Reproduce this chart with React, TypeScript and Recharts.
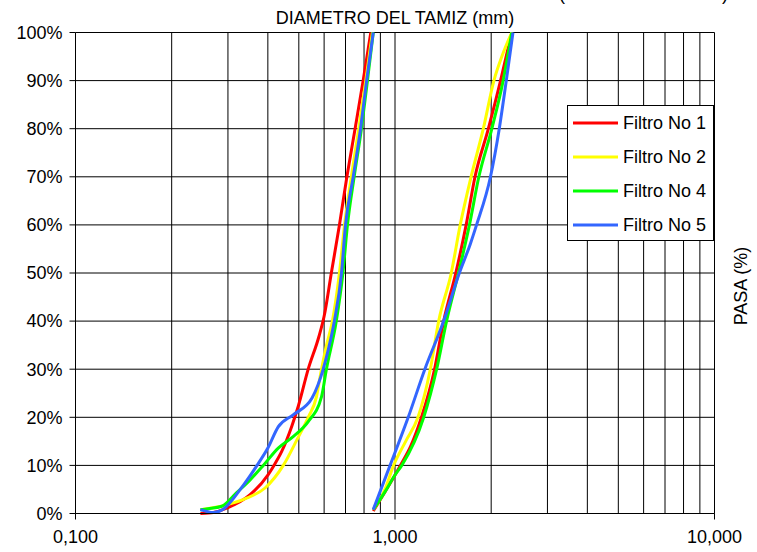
import React from "react";
import { LineChart, Line, XAxis, YAxis, CartesianGrid, Legend } from "recharts";

// diametro (mm) y % que pasa, tramo fino (izq.) y tramo grueso (der.)
const F1_FINO_D = [0.246, 0.27, 0.3, 0.352, 0.401, 0.418, 0.442, 0.475, 0.498, 0.535, 0.578, 0.6, 0.632, 0.67, 0.707, 0.75, 0.795, 0.84];
const F1_FINO_P = [0, 0.2, 1.2, 3.9, 8.1, 10, 12.9, 18.1, 22.3, 30, 36.8, 41, 50, 60, 70, 80, 90, 100];
const F1_GRUESO_D = [0.855, 0.93, 1.0, 1.05, 1.12, 1.21, 1.33, 1.42, 1.55, 1.67, 1.78, 1.96, 2.14, 2.32];
const F1_GRUESO_P = [0.5, 4.5, 8, 10.5, 14, 20, 30, 40, 50, 60, 70, 80, 90, 100];

const F2_FINO_D = [0.246, 0.297, 0.343, 0.392, 0.447, 0.493, 0.535, 0.568, 0.585, 0.609, 0.637, 0.67, 0.695, 0.73, 0.77, 0.81, 0.85];
const F2_FINO_P = [0.8, 1.8, 3.2, 5.3, 10, 15.3, 20, 24.3, 29, 34.7, 40, 50, 60, 70, 80, 90, 100];
const F2_GRUESO_D = [0.855, 0.93, 0.99, 1.08, 1.18, 1.29, 1.37, 1.5, 1.6, 1.73, 1.89, 2.04, 2.16, 2.32];
const F2_GRUESO_P = [0.8, 5, 10, 15, 20, 30, 40, 50, 60, 70, 80, 90, 95, 100];

const F4_FINO_D = [0.246, 0.26, 0.287, 0.319, 0.352, 0.387, 0.431, 0.48, 0.535, 0.589, 0.61, 0.655, 0.687, 0.71, 0.745, 0.785, 0.82, 0.855];
const F4_FINO_P = [0.8, 1, 1.5, 4.3, 7, 10, 13.6, 16, 19.1, 24.3, 30, 40, 50, 60, 70, 80, 90, 100];
const F4_GRUESO_D = [0.855, 0.93, 1.0, 1.05, 1.23, 1.35, 1.45, 1.58, 1.71, 1.83, 2.01, 2.18, 2.32];
const F4_GRUESO_P = [0.8, 4.5, 8, 10, 20, 30, 40, 50, 60, 70, 80, 90, 100];

const F5_FINO_D = [0.246, 0.27, 0.29, 0.327, 0.37, 0.4, 0.431, 0.48, 0.55, 0.596, 0.618, 0.646, 0.68, 0.7, 0.74, 0.78, 0.815, 0.855];
const F5_FINO_P = [0.8, 0.2, 0.9, 4.9, 10, 13.6, 18, 20.5, 24, 30, 34, 40, 50, 60, 70, 80, 90, 100];
const F5_GRUESO_D = [0.855, 0.965, 1.1, 1.24, 1.42, 1.59, 1.72, 1.8, 1.99, 2.12, 2.23, 2.34];
const F5_GRUESO_P = [0.8, 10, 20, 30, 40, 50, 56, 60, 70, 80, 90, 100];

const X_TICKS = [0.1, 1, 10];
const GRID_X = [0.2, 0.3, 0.4, 0.5, 0.6, 0.7, 0.8, 0.9, 1, 2, 3, 4, 5, 6, 7, 8, 9, 10];
const Y_TICKS = [0, 10, 20, 30, 40, 50, 60, 70, 80, 90, 100];

const FONT = '"Liberation Sans", Arial, sans-serif';

type Pt = { d: number; p: number | null };

// une los dos tramos con un hueco (null) entre ellos
function curva(dF: number[], pF: number[], dG: number[], pG: number[]): Pt[] {
    return [
        ...dF.map((d, i) => ({ d, p: pF[i] })),
        { d: (dF[dF.length - 1] + dG[0]) / 2, p: null },
        ...dG.map((d, i) => ({ d, p: pG[i] })),
    ];
}

const SERIES = [
    { name: "Filtro No 1", color: "#FF0000", data: curva(F1_FINO_D, F1_FINO_P, F1_GRUESO_D, F1_GRUESO_P) },
    { name: "Filtro No 2", color: "#FFFF00", data: curva(F2_FINO_D, F2_FINO_P, F2_GRUESO_D, F2_GRUESO_P) },
    { name: "Filtro No 4", color: "#00FF00", data: curva(F4_FINO_D, F4_FINO_P, F4_GRUESO_D, F4_GRUESO_P) },
    { name: "Filtro No 5", color: "#3366FF", data: curva(F5_FINO_D, F5_FINO_P, F5_GRUESO_D, F5_GRUESO_P) },
];

const renderLegend = (props: any) => (
    <div
        style={{
            width: 147,
            height: 136,
            boxSizing: "border-box",
            border: "1px solid #000",
            background: "#fff",
            fontFamily: FONT,
        }}
    >
        {(props.payload || []).map((e: any) => (
            <div key={e.value} style={{ height: 34, display: "flex", alignItems: "center" }}>
                <svg width={45} height={4} style={{ marginLeft: 5, marginRight: 5 }}>
                    <line x1={0} y1={2} x2={45} y2={2} stroke={e.color} strokeWidth={3} />
                </svg>
                <span style={{ fontSize: 18, lineHeight: "18px", color: "#000" }}>{e.value}</span>
            </div>
        ))}
    </div>
);

export default function App() {
    return (
        <div style={{ position: "absolute", left: 0, top: 0, width: 757, height: 552, background: "#fff", fontFamily: FONT, overflow: "hidden" }}>
            <LineChart
                width={757}
                height={552}
                margin={{ top: 32.5, right: 42.5, left: 7.5, bottom: 8.5 }}
                style={{ fontFamily: FONT }}
            >
                <CartesianGrid stroke="#000" strokeWidth={1} verticalValues={GRID_X} />
                <XAxis
                    dataKey="d"
                    type="number"
                    scale="log"
                    domain={[0.1, 10]}
                    allowDataOverflow
                    ticks={X_TICKS}
                    interval={0}
                    height={30}
                    tickFormatter={(v: number) => v.toFixed(3).replace(".", ",")}
                    tick={{ fill: "#000", fontSize: 18 }}
                    axisLine={{ stroke: "#000" }}
                    tickLine={{ stroke: "#000" }}
                    tickSize={6}
                    tickMargin={11}
                />
                <YAxis
                    type="number"
                    domain={[0, 100]}
                    ticks={Y_TICKS}
                    interval={0}
                    width={68}
                    tickFormatter={(v: number) => `${v}%`}
                    tick={{ fill: "#000", fontSize: 18 }}
                    axisLine={{ stroke: "#000" }}
                    tickLine={{ stroke: "#000" }}
                    tickSize={6}
                    tickMargin={7}
                />
                <Legend
                    layout="vertical"
                    align="center"
                    verticalAlign="middle"
                    wrapperStyle={{ left: 567, top: 105, width: 147, height: 136 }}
                    content={renderLegend}
                />
                {SERIES.map((s) => (
                    <Line
                        key={s.name}
                        data={s.data}
                        dataKey="p"
                        name={s.name}
                        type="monotone"
                        stroke={s.color}
                        strokeWidth={3}
                        dot={false}
                        activeDot={false}
                        connectNulls={false}
                        isAnimationActive={false}
                    />
                ))}
            </LineChart>
            <div style={{ position: "absolute", left: 0, width: 790, top: 9, textAlign: "center", fontSize: 18, lineHeight: "18px", color: "#000" }}>
                DIAMETRO DEL TAMIZ (mm)
            </div>
            <div style={{ position: "absolute", left: 559, top: -15, fontSize: 18, lineHeight: "18px" }}>(</div>
            <div style={{ position: "absolute", left: 722, top: -15, fontSize: 18, lineHeight: "18px" }}>)</div>
            <div
                style={{
                    position: "absolute",
                    left: 741,
                    top: 286,
                    fontSize: 18,
                    lineHeight: "18px",
                    whiteSpace: "nowrap",
                    transform: "translate(-50%, -50%) rotate(-90deg)",
                }}
            >
                PASA (%)
            </div>
        </div>
    );
}
